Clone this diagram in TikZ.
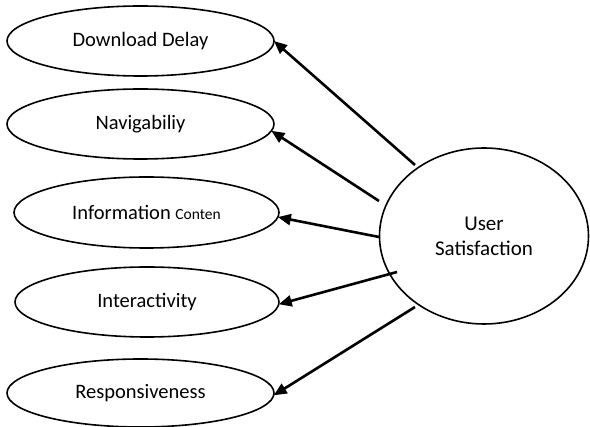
\documentclass[tikz,border=0pt]{standalone}
\usepackage{fontspec}
\setmainfont{Carlito}
\usetikzlibrary{shapes.geometric,arrows.meta}
\begin{document}
\begin{tikzpicture}[x=1pt,y=-1pt,
  factor/.style={ellipse,draw,line width=1.6pt,inner sep=0pt,outer sep=0pt,
    font=\fontsize{20.5}{25}\selectfont},
  link/.style={line width=2.6pt,-{Triangle[length=13pt,width=11pt]}}]
\useasboundingbox (0,0) rectangle (590,427);
\node[factor,minimum width=267pt,minimum height=70pt] (dd) at (140.5,41) {Download Delay};
\node[factor,minimum width=267pt,minimum height=70pt] (nav) at (140.5,124) {Navigabiliy};
\node[factor,minimum width=265pt,minimum height=71pt] (info) at (146.5,212.5) {Information {\fontsize{15.5}{18}\selectfont Conten}};
\node[factor,minimum width=264pt,minimum height=70pt] (inter) at (147,302) {Interactivity};
\node[factor,minimum width=267pt,minimum height=68pt] (resp) at (140.5,393) {Responsiveness};
\node[factor,minimum width=209pt,minimum height=176pt,align=center,
  font=\fontsize{21}{25}\selectfont] (us) at (484,236) {User\\Satisfaction};
\coordinate (s1) at (415,165);
\coordinate (s2) at (379,201);
\coordinate (s3) at (379,237);
\coordinate (s4) at (397,272);
\coordinate (s5) at (415,307);
\draw[link] (s1) -- (dd.east);
\draw[link] (s2) -- (nav.-3);
\draw[link] (s3) -- (info.-2);
\draw[link] (s4) -- (inter.-1);
\draw[link] (s5) -- (resp.-1);
\end{tikzpicture}
\end{document}
